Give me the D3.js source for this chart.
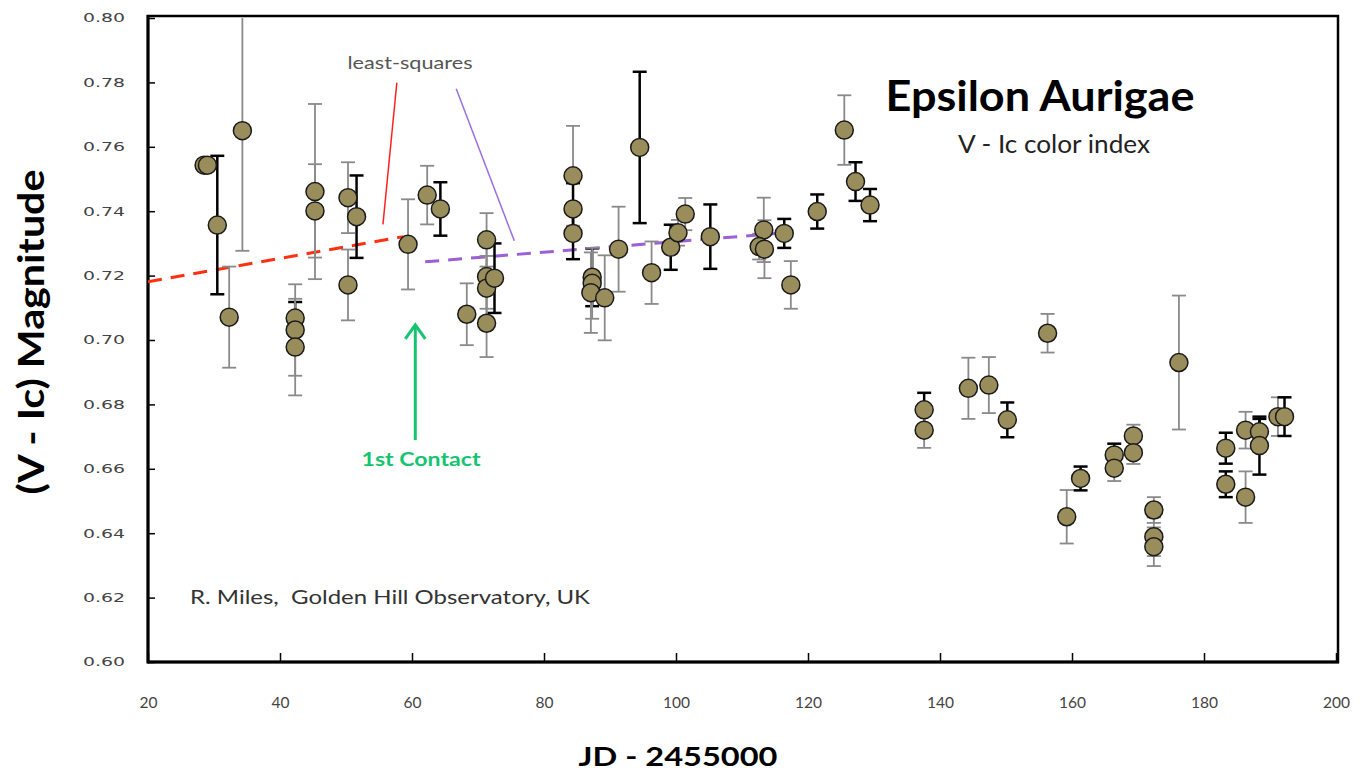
<!DOCTYPE html>
<html><head><meta charset="utf-8">
<script src="https://cdn.jsdelivr.net/npm/d3@7"></script>
<style>html,body{margin:0;padding:0;background:#fff;}svg{display:block;}</style>
</head><body>
<script>
// ---- data ----
const jd  = [28.5,29.0,30.5,32.3,34.3,42.3,42.3,42.3,45.3,45.3,50.3,50.3,51.6,59.4,62.3,64.3,68.3,
             71.3,71.3,71.3,72.5,71.3,84.4,84.4,84.4,87.3,87.3,87.1,89.2,91.3,94.5,96.3,99.2,100.3,101.4,
             105.2,113.3,112.6,113.4,116.4,117.4,121.4,125.5,127.2,129.4,
             137.6,137.6,144.3,147.4,150.2,156.3,159.2,161.3,166.4,166.4,169.3,169.3,172.4,172.4,172.4,
             176.2,183.3,183.3,186.3,186.3,188.4,188.4,191.2,192.2];
const vic = [0.7543,0.7543,0.7357,0.7071,0.7650,0.7068,0.7031,0.6978,0.7461,0.7401,0.7442,0.7171,0.7383,0.7297,0.7450,0.7407,0.7080,
             0.7311,0.7197,0.7161,0.7192,0.7052,0.7510,0.7407,0.7331,0.7195,0.7176,0.7147,0.7131,0.7282,0.7598,0.7209,0.7288,0.7333,0.7391,
             0.7321,0.7342,0.7290,0.7282,0.7331,0.7171,0.7399,0.7652,0.7492,0.7419,
             0.6783,0.6720,0.6850,0.6860,0.6752,0.7021,0.6451,0.6570,0.6643,0.6602,0.6702,0.6650,0.6472,0.6389,0.6358,
             0.6930,0.6664,0.6552,0.6720,0.6512,0.6715,0.6672,0.6762,0.6762];
const err = [0,0,0.0215,0.0157,0.0373,0.0050,0.0142,0.0150,0.0272,0.0145,0.0110,0.0110,0.0128,0.0140,0.0091,0.0083,0.0096,
             0.0083,0.0100,0.0100,0.0108,0.0105,0.0155,0.0080,0.0080,0.0090,0.0110,0.0125,0.0132,0.0132,0.0235,0.0097,0.0070,0.0040,0.0050,
             0.0100,0.0100,0.0040,0.0090,0.0045,0.0074,0.0053,0.0108,0.0060,0.0050,
             0.0053,0.0055,0.0095,0.0087,0.0054,0.0060,0.0083,0.0037,0.0035,0.0040,0.0035,0.0035,0.0040,0.0060,0.0060,
             0.0208,0.0048,0.0040,0.0057,0.0080,0.0040,0.0090,0.0060,0.0060];
// error bar style: k = black, g = grey
const errStyle = ["g","g","k","g","g","k","g","g","g","g","g","g","k","g","g","k","g",
                  "g","g","g","k","g","g","k","k","k","g","g","g","g","k","g","k","g","g",
                  "k","g","g","g","k","g","k","g","k","k",
                  "k","g","g","g","k","g","g","k","k","g","g","g","g","g","g",
                  "g","k","k","g","g","k","k","g","k"];
const xTicks = [20,40,60,80,100,120,140,160,180,200];
const yTicks = [0.60,0.62,0.64,0.66,0.68,0.70,0.72,0.74,0.76,0.78,0.80];
// least-squares fits (endpoints in data units)
const fitRedX = [20, 58.7],   fitRedY = [0.7181, 0.7321];
const fitPurX = [62.0, 116.6], fitPurY = [0.7243, 0.7333];
// annotation pointer lines
const ptrRedX = [57.7, 55.6], ptrRedY = [0.7799, 0.7359];
const ptrPurX = [66.7, 75.5], ptrPurY = [0.7780, 0.7308];
// 1st contact arrow
const contactX = 60.5, contactY = [0.6689, 0.7047];

// ---- chart ----
const W = 1368, H = 773;
const L = 148, R = 1336, T = 18, B = 662;
const svg = d3.select("body").append("svg").attr("width", W).attr("height", H);
const x = d3.scaleLinear().domain([20,200]).range([L,R]);
const y = d3.scaleLinear().domain([0.60,0.80]).range([B,T]);

svg.append("defs").append("clipPath").attr("id","clip")
  .append("rect").attr("x",L).attr("y",T).attr("width",R-L+2).attr("height",B-T);

// axes
const yAxis = d3.axisLeft(y).tickValues(yTicks).tickSize(-7).tickPadding(23).tickFormat(d3.format(".2f"));
const gy = svg.append("g").attr("transform",`translate(${L},0)`).call(yAxis);
gy.select(".domain").remove();
gy.selectAll(".tick line").attr("stroke","#000").attr("stroke-width",1.5);
gy.selectAll(".tick text").attr("font-family","DejaVu Sans, Verdana, sans-serif").attr("font-size",12).attr("fill","#444")
  .attr("textLength",42).attr("lengthAdjust","spacingAndGlyphs");

const xAxis = d3.axisBottom(x).tickValues(xTicks).tickSize(-9).tickPadding(35).tickFormat(d3.format("d"));
const gx = svg.append("g").attr("transform",`translate(0,${B})`).call(xAxis);
gx.select(".domain").remove();
gx.selectAll(".tick line").attr("stroke","#000").attr("stroke-width",1.5);
gx.selectAll(".tick text").attr("font-family","Lato, sans-serif").attr("font-size",16).attr("fill","#444")
  .attr("textLength",d=>String(d).length*9).attr("lengthAdjust","spacingAndGlyphs");

// frame
svg.append("rect").attr("x",L).attr("y",T-2).attr("width",R-L+2).attr("height",B-T+2)
  .attr("fill","none").attr("stroke","#000").attr("stroke-width",2.5);
svg.append("line").attr("x1",L).attr("x2",L).attr("y1",T-3).attr("y2",B+1.5).attr("stroke","#000").attr("stroke-width",3);
svg.append("line").attr("x1",L).attr("x2",R+3).attr("y1",B).attr("y2",B).attr("stroke","#000").attr("stroke-width",3);

const plot = svg.append("g").attr("clip-path","url(#clip)");

// fit lines
const line = d3.line().x(d=>x(d[0])).y(d=>y(d[1]));
plot.append("path").datum(d3.zip(fitRedX,fitRedY)).attr("d",line)
  .attr("stroke","#ff3010").attr("stroke-width",3).attr("stroke-dasharray","14,9").attr("fill","none");
plot.append("path").datum(d3.zip(fitPurX,fitPurY)).attr("d",line)
  .attr("stroke","#9b5fd6").attr("stroke-width",3).attr("stroke-dasharray","14,9").attr("fill","none");

// pointers
plot.append("path").datum(d3.zip(ptrRedX,ptrRedY)).attr("d",line).attr("stroke","#ff2020").attr("stroke-width",1.5).attr("fill","none");
plot.append("path").datum(d3.zip(ptrPurX,ptrPurY)).attr("d",line).attr("stroke","#9b6fe0").attr("stroke-width",1.5).attr("fill","none");

// data
const data = jd.map((d,i)=>({x:d, y:vic[i], e:err[i], s:errStyle[i]}));
const bars = plot.append("g").selectAll("g").data(data.filter(d=>d.e>0)).join("g")
  .attr("stroke", d=>d.s==="k" ? "#000" : "#8a8a8a")
  .attr("stroke-width", d=>d.s==="k" ? 2.5 : 1.8);
bars.append("line").attr("x1",d=>x(d.x)).attr("x2",d=>x(d.x)).attr("y1",d=>y(d.y+d.e)).attr("y2",d=>y(d.y-d.e));
bars.append("line").attr("x1",d=>x(d.x)-7).attr("x2",d=>x(d.x)+7).attr("y1",d=>y(d.y+d.e)).attr("y2",d=>y(d.y+d.e));
bars.append("line").attr("x1",d=>x(d.x)-7).attr("x2",d=>x(d.x)+7).attr("y1",d=>y(d.y-d.e)).attr("y2",d=>y(d.y-d.e));

plot.append("g").selectAll("circle").data(data).join("circle")
  .attr("cx",d=>x(d.x)).attr("cy",d=>y(d.y)).attr("r",9)
  .attr("fill","#9a8d5c").attr("stroke","#1a1a1a").attr("stroke-width",1.5);

// 1st contact arrow
const green = "#14c470";
const ax = x(contactX), ay0 = y(contactY[0]), ay1 = y(contactY[1]);
svg.append("line").attr("x1",ax).attr("x2",ax).attr("y1",ay0).attr("y2",ay1+1).attr("stroke",green).attr("stroke-width",3);
svg.append("path").attr("d",`M${ax-10},${ay1+14} L${ax},${ay1} L${ax+10},${ay1+14}`)
  .attr("stroke",green).attr("stroke-width",3).attr("fill","none");

function label(txt, px, py, size, len, opts) {
  const t = svg.append("text").attr("x",px).attr("y",py).attr("text-anchor","middle")
    .attr("font-family","Lato, sans-serif").attr("font-size",size)
    .attr("textLength",len).attr("lengthAdjust","spacingAndGlyphs").style("white-space","pre");
  Object.entries(opts||{}).forEach(([k,v])=>t.attr(k,v));
  return t.text(txt);
}
label("1st Contact", 421, 466, 19, 119, {"font-weight":"bold", fill:green});
label("least-squares", 410, 69, 18, 125, {fill:"#555"});
label("Epsilon Aurigae", 1040, 111, 42, 309, {"font-weight":"bold", fill:"#000"});
label("V - Ic color index", 1054, 153, 25, 192, {fill:"#222"});
label("R. Miles,  Golden Hill Observatory, UK", 390, 604, 20, 400, {fill:"#333"});
label("(V - Ic) Magnitude", 0, 0, 36, 325, {"font-weight":"bold", fill:"#000", transform:"translate(44,332) rotate(-90)"});
label("JD - 2455000", 678, 766, 27, 199, {"font-weight":"bold", fill:"#000"});
</script>
</body></html>
